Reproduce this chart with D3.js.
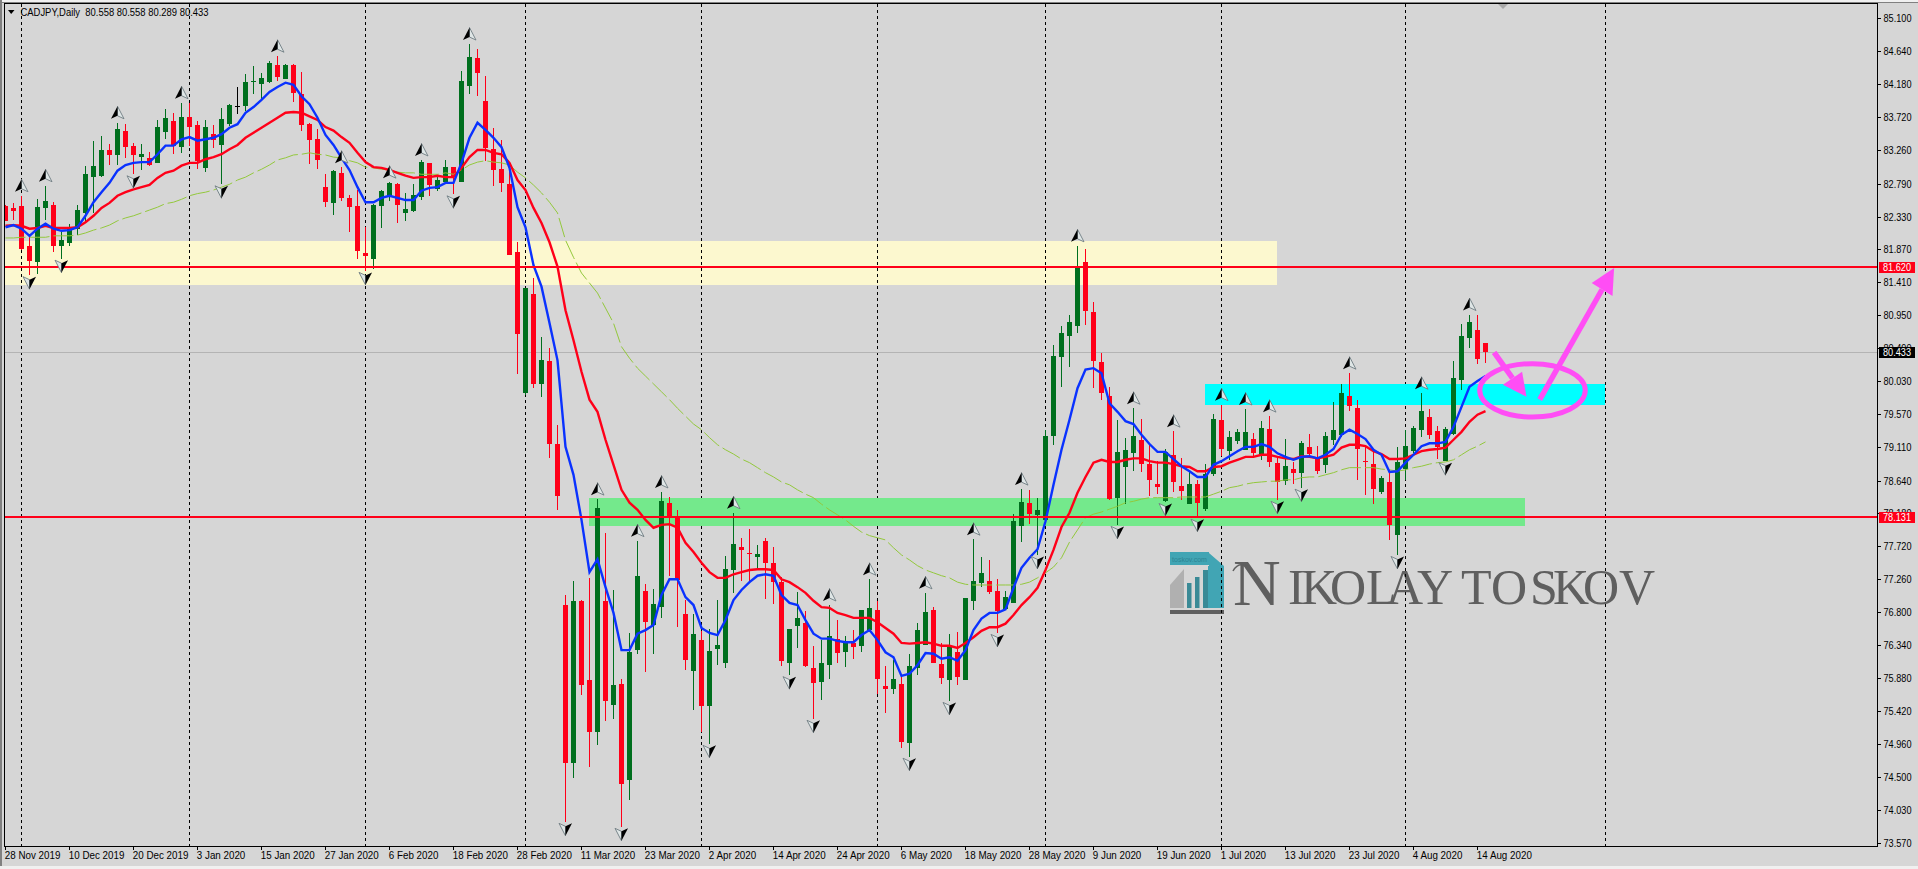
<!DOCTYPE html>
<html>
<head>
<meta charset="utf-8">
<title>CADJPY,Daily</title>
<script src="https://cdn.jsdelivr.net/npm/d3@7"></script>
<style>
    html, body { margin: 0; padding: 0; background: #d6d6d6; overflow: hidden; }
    svg { display: block; }
    text { font-family: "Liberation Sans", sans-serif; font-size: 11px; fill: #000; }
</style>
</head>
<body>
<svg id="chart" width="1918" height="869"></svg>
<script>
const symbolTitle = "CADJPY,Daily  80.558 80.558 80.289 80.433";

const opens = [
    82.48,82.45,82.48,81.92,81.69,82.45,82.49,81.92,81.96,82.16,
    82.38,82.88,82.90,83.26,83.18,83.53,83.32,83.16,83.15,83.08,
    83.51,83.67,83.30,83.72,83.61,83.01,83.48,83.33,83.62,83.87,
    83.87,84.20,84.18,84.21,84.45,84.25,84.45,84.04,83.62,83.41,
    82.74,82.52,82.94,82.59,82.48,81.82,81.74,82.48,82.60,82.78,
    82.39,82.41,82.60,83.08,82.72,82.81,83.02,82.81,84.15,84.55,
    83.94,83.27,82.99,82.78,81.83,79.86,81.25,79.99,80.31,79.15,
    76.90,74.69,76.96,75.85,75.13,76.96,75.50,75.80,74.45,76.27,
    77.10,76.61,76.87,78.33,78.13,76.77,75.98,76.41,75.49,76.29,
    76.09,77.38,77.71,77.63,77.57,77.80,77.49,77.22,76.09,76.61,
    76.65,76.02,75.82,76.06,76.43,76.24,76.37,76.33,76.55,76.83,
    75.77,75.73,75.80,74.97,76.02,76.34,76.83,76.08,75.85,76.24,
    75.85,76.96,77.21,77.24,77.10,76.84,76.93,78.00,78.33,78.16,
    78.09,79.26,80.37,80.66,80.80,81.69,80.99,80.30,79.82,78.40,
    78.83,79.02,79.21,78.87,78.59,78.35,79.00,78.56,78.31,78.59,
    78.24,78.73,79.49,79.05,79.19,79.07,79.22,79.01,79.36,78.89,
    78.63,78.80,78.75,79.11,78.94,78.86,79.21,79.28,79.82,79.65,
    78.91,78.87,78.48,78.62,77.88,78.80,79.05,79.35,79.53,79.33,
    78.91,79.29,80.05,80.63,80.74,80.558
];

const highs = [
    82.49,82.52,82.62,82.07,82.57,82.76,82.53,82.11,82.23,82.49,
    83.04,83.39,83.46,83.34,83.64,83.62,83.36,83.34,83.23,83.68,
    83.83,83.78,83.92,83.92,83.67,83.68,83.61,83.85,83.90,84.14,
    84.32,84.43,84.34,84.50,84.57,84.46,84.46,84.35,83.64,83.55,
    82.92,82.98,83.02,82.63,82.70,82.18,82.51,82.70,82.81,82.80,
    82.66,82.78,83.12,83.08,82.91,83.12,83.02,84.36,84.74,84.67,
    84.29,83.57,83.40,83.09,81.97,81.33,81.47,80.65,80.49,79.42,
    77.04,77.24,76.97,77.28,78.38,77.91,77.11,75.87,76.51,77.80,
    77.19,77.12,78.48,78.41,78.23,76.97,76.77,76.54,76.57,76.97,
    77.59,78.19,77.84,77.96,77.74,77.84,77.71,77.29,76.57,77.08,
    76.82,76.33,76.41,76.90,76.69,76.47,76.55,76.83,77.26,76.96,
    76.05,76.13,75.92,76.22,76.65,77.07,76.87,76.37,76.50,76.52,
    77.00,77.82,77.57,77.53,77.26,77.10,78.17,78.52,78.51,78.40,
    79.35,80.53,80.80,80.95,81.92,81.88,81.13,80.42,79.95,79.49,
    79.23,79.65,79.50,79.15,78.91,79.08,79.33,78.96,78.76,78.65,
    78.87,79.57,79.70,79.33,79.36,79.64,79.30,79.47,79.54,78.98,
    79.22,78.90,79.19,79.29,79.12,79.32,79.74,79.99,80.14,79.77,
    79.11,79.04,78.70,78.79,79.11,79.35,79.40,79.86,79.64,79.40,
    79.39,80.31,80.83,80.96,80.95,80.558
];

const lows = [
    82.27,82.28,81.86,81.51,81.53,82.28,81.83,81.74,81.92,82.07,
    82.25,82.38,82.88,83.05,83.05,83.15,82.92,82.98,83.04,83.08,
    83.41,83.20,83.22,83.32,82.99,82.95,83.29,82.78,83.60,83.76,
    83.81,84.04,83.97,84.20,84.22,84.25,83.93,83.53,83.06,82.99,
    82.46,82.35,82.55,82.11,81.74,81.57,81.60,82.17,82.55,82.24,
    82.27,82.39,82.56,82.62,82.69,82.80,82.64,82.81,84.04,84.01,
    83.11,82.76,82.67,81.79,80.13,79.84,79.93,79.81,78.95,78.23,
    73.87,74.48,75.64,74.64,74.94,75.28,75.31,73.80,74.17,76.21,
    75.96,76.21,76.72,77.31,76.59,75.99,75.43,75.13,74.96,76.06,
    76.02,77.07,77.24,77.22,77.39,76.98,76.91,76.05,75.92,76.30,
    76.03,75.31,75.57,75.87,76.09,76.03,76.15,76.24,76.52,75.66,
    75.39,75.66,74.90,74.78,75.92,76.34,76.09,75.80,75.56,75.78,
    75.85,76.83,77.15,77.05,76.51,76.83,76.93,77.78,78.03,77.60,
    78.09,79.14,79.95,80.23,80.70,80.81,79.93,79.77,78.37,78.02,
    78.31,78.77,78.76,78.42,78.45,78.34,78.48,78.37,78.31,78.12,
    78.21,78.70,78.98,78.93,79.15,79.07,78.98,78.93,78.83,78.37,
    78.58,78.59,78.54,79.00,78.73,78.75,79.14,79.25,79.61,78.65,
    78.44,78.31,78.45,77.81,77.60,78.65,79.02,79.25,79.22,78.94,
    78.91,79.28,79.91,80.49,80.27,80.289
];

const closes = [
    82.27,82.41,81.88,81.71,82.46,82.55,81.92,82.00,82.17,82.42,
    82.92,83.04,83.26,83.19,83.55,83.30,83.20,83.20,83.05,83.58,
    83.71,83.32,83.72,83.58,83.11,83.58,83.39,83.69,83.89,83.87,
    84.21,84.22,84.27,84.48,84.28,84.45,84.06,83.61,83.39,83.11,
    82.53,82.97,82.59,82.46,81.85,81.78,82.49,82.69,82.80,82.48,
    82.44,82.63,83.09,82.77,82.84,83.02,82.90,84.22,84.56,84.34,
    83.29,82.98,82.80,81.79,80.69,81.33,79.99,80.32,79.15,78.42,
    74.69,76.96,75.78,75.13,78.26,75.56,75.78,74.40,76.24,77.31,
    76.66,76.91,78.35,78.13,77.25,76.13,76.50,75.49,76.26,76.34,
    77.40,77.75,77.67,77.61,77.61,77.49,77.22,76.12,76.57,76.72,
    76.05,75.81,76.09,76.47,76.24,76.38,76.31,76.83,76.86,75.87,
    75.73,75.87,74.99,76.05,76.55,76.80,76.09,75.89,76.33,75.89,
    77.00,77.24,77.35,77.08,76.82,77.01,78.07,78.34,78.17,78.23,
    79.26,80.38,80.70,80.86,81.61,81.01,80.31,79.86,78.38,79.04,
    79.07,79.26,78.87,78.65,78.55,79.04,78.62,78.49,78.59,78.33,
    78.73,79.50,79.08,79.25,79.32,79.32,79.02,79.37,78.90,78.63,
    78.84,78.75,79.17,79.01,78.77,79.26,79.35,79.86,79.68,79.08,
    78.89,78.52,78.68,78.02,78.90,79.12,79.37,79.61,79.28,79.11,
    79.36,80.07,80.66,80.86,80.34,80.433
];

const maBlue = [
    82.18,82.21,82.16,82.06,82.16,82.23,82.16,82.13,82.14,82.18,
    82.34,82.53,82.67,82.80,82.97,83.05,83.08,83.09,83.09,83.20,
    83.32,83.32,83.41,83.44,83.39,83.41,83.43,83.48,83.57,83.62,
    83.78,83.86,83.96,84.07,84.14,84.20,84.17,84.01,83.90,83.71,
    83.47,83.33,83.15,82.98,82.74,82.53,82.53,82.59,82.62,82.59,
    82.56,82.56,82.69,82.73,82.74,82.80,82.80,83.08,83.43,83.64,
    83.54,83.43,83.30,83.01,82.46,82.18,81.65,81.35,80.84,80.32,
    79.11,78.72,78.09,77.36,77.54,77.15,76.79,76.27,76.27,76.50,
    76.55,76.62,77.04,77.26,77.26,77.01,76.90,76.58,76.51,76.48,
    76.69,76.97,77.11,77.22,77.31,77.33,77.31,77.04,76.93,76.90,
    76.69,76.50,76.43,76.43,76.40,76.38,76.38,76.48,76.55,76.41,
    76.24,76.17,75.91,75.94,76.06,76.23,76.22,76.15,76.17,76.12,
    76.27,76.55,76.71,76.79,76.79,76.84,77.14,77.42,77.56,77.68,
    78.07,78.58,79.07,79.49,79.93,80.19,80.21,80.14,79.72,79.60,
    79.47,79.43,79.28,79.15,79.04,79.04,78.94,78.84,78.77,78.69,
    78.69,78.86,78.91,78.98,79.05,79.11,79.11,79.15,79.11,79.02,
    78.97,78.93,78.97,78.98,78.95,79.00,79.08,79.28,79.35,79.29,
    79.22,79.07,79.00,78.76,78.77,78.89,79.00,79.12,79.16,79.16,
    79.18,79.39,79.67,79.95,80.03,80.10
];

const maRed = [
    82.20,82.21,82.20,82.16,82.17,82.20,82.17,82.17,82.17,82.18,
    82.25,82.34,82.45,82.52,82.62,82.67,82.71,82.74,82.77,82.87,
    82.94,82.97,83.04,83.08,83.08,83.13,83.16,83.20,83.27,83.33,
    83.43,83.50,83.57,83.64,83.71,83.78,83.79,83.78,83.73,83.68,
    83.58,83.53,83.44,83.36,83.22,83.09,83.02,83.01,82.98,82.94,
    82.90,82.87,82.88,82.88,82.90,82.88,82.88,83.01,83.16,83.26,
    83.26,83.22,83.20,83.08,82.84,82.70,82.45,82.24,81.97,81.63,
    81.02,80.60,80.16,79.77,79.60,79.21,78.86,78.51,78.33,78.23,
    78.09,77.98,78.02,78.03,77.98,77.77,77.64,77.49,77.36,77.28,
    77.28,77.33,77.36,77.39,77.40,77.40,77.39,77.26,77.22,77.15,
    77.07,76.96,76.87,76.86,76.79,76.76,76.72,76.72,76.72,76.66,
    76.58,76.50,76.37,76.36,76.37,76.38,76.36,76.33,76.33,76.30,
    76.37,76.45,76.54,76.59,76.59,76.64,76.76,76.90,77.01,77.14,
    77.39,77.67,77.99,78.19,78.47,78.69,78.89,78.93,78.90,78.90,
    78.93,78.95,78.95,78.91,78.89,78.89,78.87,78.84,78.83,78.77,
    78.77,78.83,78.84,78.89,78.93,78.97,78.97,79.00,79.00,78.97,
    78.95,78.94,78.98,78.97,78.95,78.97,79.00,79.10,79.14,79.14,
    79.12,79.05,79.01,78.94,78.94,78.95,79.00,79.05,79.07,79.08,
    79.10,79.21,79.32,79.46,79.56,79.61
];

const maGreen = [
    82.03,82.03,82.04,82.04,82.04,82.04,82.06,82.06,82.06,82.07,
    82.10,82.14,82.17,82.21,82.27,82.31,82.34,82.38,82.42,82.46,
    82.51,82.53,82.57,82.62,82.65,82.67,82.70,82.74,82.78,82.84,
    82.88,82.94,82.99,83.05,83.12,83.15,83.19,83.20,83.22,83.20,
    83.19,83.16,83.15,83.11,83.08,83.02,83.01,82.99,82.98,82.95,
    82.94,82.94,82.92,82.92,82.92,82.94,82.92,82.98,83.05,83.09,
    83.11,83.09,83.08,83.05,82.95,82.87,82.77,82.66,82.53,82.38,
    82.00,81.76,81.54,81.40,81.26,81.05,80.84,80.51,80.35,80.21,
    80.10,79.99,79.88,79.77,79.65,79.54,79.43,79.35,79.24,79.14,
    79.07,79.01,78.94,78.89,78.82,78.75,78.69,78.62,78.58,78.51,
    78.45,78.40,78.31,78.23,78.16,78.09,78.00,77.92,77.87,77.84,
    77.81,77.70,77.60,77.53,77.45,77.39,77.35,77.31,77.28,77.22,
    77.19,77.18,77.18,77.18,77.18,77.18,77.18,77.19,77.22,77.28,
    77.35,77.43,77.56,77.78,77.95,78.12,78.17,78.20,78.24,78.28,
    78.33,78.35,78.38,78.40,78.40,78.40,78.40,78.41,78.41,78.41,
    78.41,78.45,78.49,78.54,78.56,78.59,78.61,78.62,78.63,78.63,
    78.65,78.65,78.68,78.69,78.69,78.72,78.75,78.79,78.82,78.82,
    78.82,78.82,78.80,78.79,78.77,78.79,78.82,78.84,78.87,78.89,
    78.90,78.93,79.00,79.07,79.12,79.18
];

const fractalUpBars = [2,5,14,22,34,42,48,52,58,74,79,82,91,103,108,115,121,127,134,141,146,152,155,158,168,177,183];
const fractalDownBars = [3,7,16,27,45,56,70,77,88,98,101,113,118,124,129,139,145,149,159,162,174,180];

const separatorBars = [2,23,45,65,87,109,130,152,175,200];

const dateLabels = ["28 Nov 2019","10 Dec 2019","20 Dec 2019","3 Jan 2020","15 Jan 2020","27 Jan 2020","6 Feb 2020","18 Feb 2020",
    "28 Feb 2020","11 Mar 2020","23 Mar 2020","2 Apr 2020","14 Apr 2020","24 Apr 2020","6 May 2020","18 May 2020","28 May 2020",
    "9 Jun 2020","19 Jun 2020","1 Jul 2020","13 Jul 2020","23 Jul 2020","4 Aug 2020","14 Aug 2020"];
const dateTickStep = 8;

const priceTicks = [85.10,84.64,84.18,83.72,83.26,82.79,82.33,81.87,81.41,80.95,80.49,80.03,79.57,79.11,78.64,78.18,77.72,77.26,76.80,76.34,75.88,75.42,74.96,74.50,74.03,73.57];

const resistanceLevel = 81.620;
const supportLevel = 78.131;
const lastPrice = 80.433;

// rectangles drawn by hand on the chart, in bars and prices
const yellowZone = { from: -1, to: 159, top: 81.99, bottom: 81.37 };
const greenZone = { from: 73, to: 190, top: 78.40, bottom: 78.00 };
const cyanZone = { from: 150, to: 200, top: 79.99, bottom: 79.70 };

const ringCentre = { bar: 190.9, price: 79.90 };
const ringRadius = { bars: 6.6, price: 0.373 };
const shortArrow = { from: [186.1, 80.43], to: [190.15, 79.81], wingA: [189.6, 80.16], wingB: [187.2, 79.98] };
const longArrow = { from: [191.8, 79.77], to: [201.1, 81.61], wingA: [198.3, 81.40], wingB: [200.9, 81.22] };

const brandRest = "IKOLAY TOSKOV";
const brandLetterX = [1288,1301,1330,1366,1387,1417,1450,1461,1491,1530,1553,1583,1619];

const colors = {
    background: "#d6d6d6",
    up: "#006f1e",
    down: "#ff0019",
    doji: "#000000",
    blue: "#0a32ff",
    red: "#ff0019",
    olive: "#93c83c",
    pink: "#ff4df5",
    lastLine: "#b4b4b4"
};

const plot = { left: 4.5, right: 1877.5, top: 3.5, bottom: 846.5 };

const x = d3.scaleLinear().domain([0, opens.length - 1]).range([5.3, 5.3 + 8 * (opens.length - 1)]);
const y = d3.scaleLinear().domain([85.10, 73.57]).range([18.3, 843.3]);

const barPx = i => Math.floor(x(i)) + 0.5;

const svg = d3.select("#chart");

svg.append("rect").attr("x", 0).attr("y", 0).attr("width", 1918).attr("height", 869).attr("fill", colors.background);
svg.append("rect").attr("x", 0).attr("y", 0).attr("width", 1918).attr("height", 2).attr("fill", "#f0f0f0");
svg.append("rect").attr("x", 0).attr("y", 2).attr("width", 1918).attr("height", 1).attr("fill", "#808080");
svg.append("rect").attr("x", 0).attr("y", 0).attr("width", 2).attr("height", 869).attr("fill", "#808080");
svg.append("rect").attr("x", 0).attr("y", 866).attr("width", 1918).attr("height", 3).attr("fill", "#f0f0f0");

svg.append("defs").append("clipPath").attr("id", "plotClip").append("rect")
    .attr("x", plot.left)
    .attr("y", plot.top)
    .attr("width", plot.right - plot.left)
    .attr("height", plot.bottom - plot.top);

const g = svg.append("g").attr("clip-path", "url(#plotClip)");

function drawZone(zone, color) {
    g.append("rect")
        .attr("x", x(zone.from))
        .attr("y", y(zone.top))
        .attr("width", x(zone.to) - x(zone.from))
        .attr("height", y(zone.bottom) - y(zone.top))
        .attr("fill", color)
        .attr("shape-rendering", "crispEdges");
}

function drawWatermark() {
    const mark = g.append("g").attr("transform", "translate(1170,552)");
    mark.append("rect").attr("x", 0).attr("y", 0).attr("width", 39).attr("height", 13).attr("fill", "#41a5b4");
    mark.append("text").attr("x", 19.5).attr("y", 10).attr("text-anchor", "middle")
        .style("font-size", "7px").style("fill", "#2e8493").text("toskov.com");
    mark.append("path").attr("d", "M39,1 L54,14 L54,56 L38,56 L38,14 L39,14 Z").attr("fill", "#41a5b4");
    mark.append("path").attr("d", "M0,33 L14,17 L14,56 L0,56 Z").attr("fill", "#b0b0b0");
    [[17, 31, 4.5], [25, 25, 4.5], [33, 18, 5]].forEach(b => {
        mark.append("rect").attr("x", b[0]).attr("y", b[1]).attr("width", b[2]).attr("height", 56 - b[1]).attr("fill", "#3a8a96");
    });
    mark.append("rect").attr("x", 0).attr("y", 58).attr("width", 54).attr("height", 4).attr("fill", "#606060");

    const brand = g.append("g");
    brand.append("text").attr("x", 1233).attr("y", 605)
        .style("font-size", "66px").style("fill", "#5f5f5f").style("font-family", "'Liberation Serif', serif").text("N");
    brand.append("path").attr("d", "M1233,571 Q1238,562 1246,566")
        .attr("fill", "none").attr("stroke", "#5f5f5f").attr("stroke-width", 1.5);
    brand.append("text").attr("x", brandLetterX.join(" ")).attr("y", 604)
        .style("font-size", "50px").style("fill", "#5f5f5f").style("font-family", "'Liberation Serif', serif").text(brandRest);
}

function drawCandles() {
    const bars = d3.range(opens.length);
    const color = i => closes[i] > opens[i] ? colors.up : closes[i] < opens[i] ? colors.down : colors.doji;

    g.append("g").selectAll("line").data(bars).join("line")
        .attr("x1", barPx).attr("x2", barPx)
        .attr("y1", i => y(highs[i])).attr("y2", i => y(lows[i]))
        .attr("stroke", color)
        .attr("stroke-width", 1)
        .attr("shape-rendering", "crispEdges");

    g.append("g").selectAll("rect").data(bars).join("rect")
        .attr("x", i => barPx(i) - 2.5)
        .attr("width", 5)
        .attr("y", i => Math.round(y(Math.max(opens[i], closes[i]))))
        .attr("height", i => Math.max(1, Math.round(Math.abs(y(opens[i]) - y(closes[i])))))
        .attr("fill", color)
        .attr("shape-rendering", "crispEdges");
}

function drawAverage(values, color, width, dash) {
    const line = d3.line().x((d, i) => x(i) + 0.2).y(d => y(d));
    g.append("path")
        .attr("d", line(values))
        .attr("fill", "none")
        .attr("stroke", color)
        .attr("stroke-width", width)
        .attr("stroke-dasharray", dash || null);
}

function drawFractal(bar, isUp) {
    const cy = isUp ? y(highs[bar]) - 10 : y(lows[bar]) + 7.5;
    const s = isUp ? 1 : -1;
    const f = g.append("g").attr("transform", `translate(${barPx(bar)},${cy}) scale(${s},${s})`);
    f.append("path").attr("d", "M0,-6.5 L6.5,6 L0,3 Z").attr("fill", "#dfe6e6").attr("stroke", "#6f7d82").attr("stroke-width", 0.9);
    f.append("path").attr("d", "M0,-6.5 L-6.5,6 L0,3 Z").attr("fill", "#000");
}

function drawLevel(price, color, width) {
    const pos = Math.round(y(price)) + (width === 1 ? 0.5 : 0);
    g.append("line")
        .attr("x1", plot.left).attr("x2", plot.right)
        .attr("y1", pos).attr("y2", pos)
        .attr("stroke", color)
        .attr("stroke-width", width)
        .attr("shape-rendering", "crispEdges");
}

function drawArrow(a) {
    const px = p => [x(p[0]), y(p[1])];
    g.append("line")
        .attr("x1", px(a.from)[0]).attr("y1", px(a.from)[1])
        .attr("x2", (px(a.wingA)[0] + px(a.wingB)[0]) / 2).attr("y2", (px(a.wingA)[1] + px(a.wingB)[1]) / 2)
        .attr("stroke", colors.pink)
        .attr("stroke-width", 5.5);
    g.append("path")
        .attr("d", d3.line()([px(a.to), px(a.wingA), px(a.wingB)]) + "Z")
        .attr("fill", colors.pink);
}

// order follows the terminal: zones, separators, bid line, candles, averages, levels, arrows
drawZone(yellowZone, "#fcf8cf");

drawWatermark();

g.append("g").selectAll("line").data(separatorBars).join("line")
    .attr("x1", barPx).attr("x2", barPx)
    .attr("y1", plot.top).attr("y2", plot.bottom)
    .attr("stroke", "#000")
    .attr("stroke-width", 1)
    .attr("stroke-dasharray", "3 3")
    .attr("shape-rendering", "crispEdges");

drawZone(greenZone, "#74e98c");
drawZone(cyanZone, "#00ffff");

drawLevel(lastPrice, colors.lastLine, 1);

drawCandles();

drawAverage(maGreen, colors.olive, 1, "20 4");
drawAverage(maRed, colors.red, 2.4);
drawAverage(maBlue, colors.blue, 2.4);

drawLevel(resistanceLevel, colors.red, 2);
drawLevel(supportLevel, colors.red, 2);

fractalUpBars.forEach(b => drawFractal(b, true));
fractalDownBars.forEach(b => drawFractal(b, false));

g.append("ellipse")
    .attr("cx", x(ringCentre.bar))
    .attr("cy", y(ringCentre.price))
    .attr("rx", x(ringRadius.bars) - x(0))
    .attr("ry", y(73.57 - ringRadius.price) - y(73.57))
    .attr("fill", "none")
    .attr("stroke", colors.pink)
    .attr("stroke-width", 5);

drawArrow(shortArrow);
drawArrow(longArrow);

// grey shift marker at the top of the plot
g.append("path").attr("d", "M1498,4 L1508,4 L1503,9 Z").attr("fill", "#a8a8a8");

// frame and axes
svg.append("rect")
    .attr("x", plot.left).attr("y", plot.top)
    .attr("width", plot.right - plot.left).attr("height", plot.bottom - plot.top)
    .attr("fill", "none").attr("stroke", "#000").attr("stroke-width", 1)
    .attr("shape-rendering", "crispEdges");

const priceAxis = d3.axisRight(y)
    .tickValues(priceTicks)
    .tickSize(3)
    .tickPadding(3)
    .tickFormat(d3.format(".3f"));

svg.append("g")
    .attr("transform", `translate(${plot.right},0)`)
    .call(priceAxis)
    .call(a => a.select(".domain").remove())
    .call(a => a.selectAll("line").attr("stroke", "#000").attr("shape-rendering", "crispEdges"))
    .call(a => a.selectAll("text")
        .attr("textLength", 28)
        .attr("lengthAdjust", "spacingAndGlyphs")
        .style("font-size", "11px")
        .style("font-family", "'Liberation Sans', sans-serif")
        .attr("fill", "#000"));

const dateAxis = d3.axisBottom(x)
    .tickValues(dateLabels.map((d, i) => i * dateTickStep))
    .tickSize(3)
    .tickFormat((d, i) => dateLabels[i]);

svg.append("g")
    .attr("transform", `translate(0,${plot.bottom})`)
    .call(dateAxis)
    .call(a => a.select(".domain").remove())
    .call(a => a.selectAll("line").attr("stroke", "#000").attr("shape-rendering", "crispEdges"))
    .call(a => a.selectAll("text")
        .attr("text-anchor", "start")
        .attr("x", -1)
        .attr("y", 5)
        .style("font-size", "10px")
        .style("font-family", "'Liberation Sans', sans-serif")
        .attr("fill", "#000")
        .each(function() {
            // keep the 10px width but use the taller 11px glyphs
            const w = this.getComputedTextLength();
            d3.select(this)
                .attr("textLength", w * 0.98)
                .attr("lengthAdjust", "spacingAndGlyphs")
                .style("font-size", "11px");
        }));

function priceTag(price, color, label) {
    const cy = Math.round(y(price));
    svg.append("rect")
        .attr("x", 1879).attr("y", cy - 5.5)
        .attr("width", 36).attr("height", 11)
        .attr("fill", color)
        .attr("shape-rendering", "crispEdges");
    svg.append("text")
        .attr("x", 1883).attr("y", cy + 4)
        .attr("textLength", 28)
        .attr("lengthAdjust", "spacingAndGlyphs")
        .style("font-size", "11px")
        .style("fill", "#fff")
        .text(label);
}

priceTag(resistanceLevel, colors.down, "81.620");
priceTag(supportLevel, colors.down, "78.131");
priceTag(lastPrice, "#000", "80.433");

// header
svg.append("path").attr("d", "M8,10 L14.5,10 L11.2,14 Z").attr("fill", "#000");
svg.append("text")
    .attr("x", 20.5).attr("y", 15.5)
    .attr("textLength", 188)
    .attr("lengthAdjust", "spacingAndGlyphs")
    .attr("xml:space", "preserve")
    .style("white-space", "pre")
    .text(symbolTitle);
</script>
</body>
</html>
